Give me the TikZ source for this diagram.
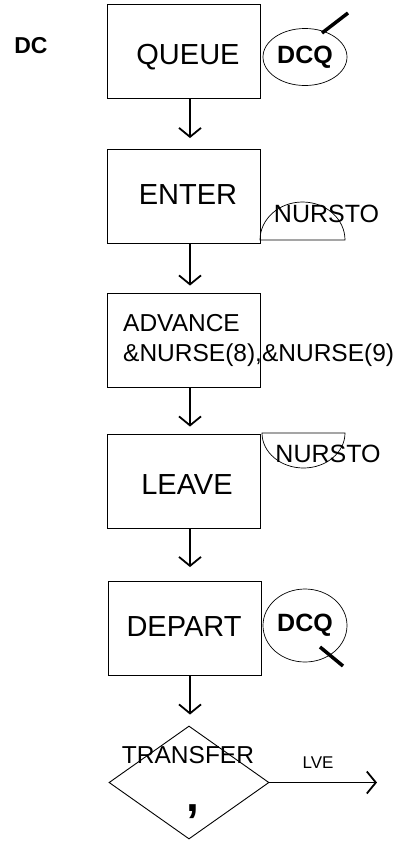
\documentclass[tikz,border=0pt]{standalone}
\usepackage{fontspec}
\setmainfont{Liberation Sans}
\usetikzlibrary{shapes.geometric,arrows.meta}
\begin{document}
\begin{tikzpicture}[x=1pt,y=-1pt,
  blk/.style={draw,line width=0.9pt,minimum width=153pt,minimum height=94pt,inner sep=0pt},
  big/.style={inner sep=0pt,font=\fontsize{29}{34}\selectfont},
  mid/.style={inner sep=0pt,font=\fontsize{24.5}{29}\selectfont},
  bold/.style={inner sep=0pt,font=\fontsize{23}{28}\selectfont\bfseries},
  ell/.style={draw,ellipse,line width=0.7pt,inner sep=0pt,minimum width=84pt},
  arr/.style={line width=1.8pt,-{Straight Barb[length=9pt,width=22pt,line width=1.8pt]}},
  slash/.style={line width=3.5pt},
  half/.style={draw,line width=0.7pt}]
\useasboundingbox (0,0) rectangle (412,844);
\coordinate (ax) at (190,0);
% boxes
\node[blk] (q) at (183.5,51) {};
\node[blk] (e) at (183.5,196.5) {};
\node[blk] (a) at (184,340) {};
\node[blk] (l) at (184,481) {};
\node[blk] (dp) at (185,628.5) {};
\node[draw,diamond,line width=0.9pt,minimum width=160pt,minimum height=113pt,inner sep=0pt] (d) at (189,782.5) {};
% texts
\node[bold] (dc) at (31,46) {DC};
\node[big] (tq) at (188,57) {QUEUE};
\node[big] (te) at (188,195) {ENTER};
\node[mid,anchor=west] (ta1) at (123,323) {ADVANCE};
\node[mid,anchor=west] (ta2) at (123,355) {\&NURSE(8),\&NURSE(9)};
\node[big] (tl) at (187,485) {LEAVE};
\node[big] (td) at (184,627) {DEPART};
\node[mid] (tt) at (188,755) {TRANSFER};
\node[inner sep=0pt,anchor=base,font=\fontsize{46}{50}\selectfont\bfseries] (cm) at (192.5,811) {,};
\node[inner sep=0pt,font=\fontsize{17}{20}\selectfont] (lv) at (318,763) {LVE};
% DCQ ellipses
\node[ell,minimum height=57pt,font=\fontsize{25}{30}\selectfont\bfseries] (c1) at (305,57) {\raisebox{2pt}{DCQ}};
\draw[slash] (322,33) -- (348,13);
\node[ell,minimum height=73pt,font=\fontsize{25}{30}\selectfont\bfseries] (c2) at (305,625.5) {\raisebox{4pt}{DCQ}};
\draw[slash] (320,647) -- (343,666);
% NURSTO halves
\draw[half] (260,240) arc[start angle=180,end angle=0,x radius=42.5pt,y radius=38pt] -- cycle;
\node[mid,font=\fontsize{25}{30}\selectfont] (n1) at (326.5,213.5) {NURSTO};
\draw[half] (262,433) arc[start angle=180,end angle=360,x radius=41.5pt,y radius=35pt] -- cycle;
\node[mid,font=\fontsize{25}{30}\selectfont] (n2) at (328,453.5) {NURSTO};
% connectors
\draw[arr,shorten >=11pt] (q.south -| ax) -- (e.north -| ax);
\draw[arr,shorten >=7pt] (e.south -| ax) -- (a.north -| ax);
\draw[arr,shorten >=7pt] (a.south -| ax) -- (l.north -| ax);
\draw[arr,shorten >=14pt] (l.south -| ax) -- (dp.north -| ax);
\draw[arr,shorten >=11pt] (dp.south -| ax) -- (d.north -| ax);
\coordinate (lvend) at (377,782.5);
\draw[arr] (d.east) -- (lvend);
\end{tikzpicture}
\end{document}
